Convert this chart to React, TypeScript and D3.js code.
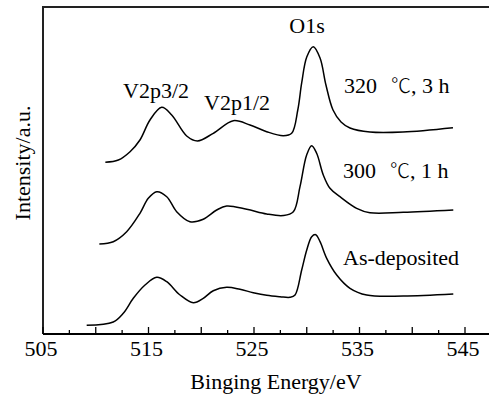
import React from "react";
import * as d3 from "d3";

const W = 489;
const H = 406;

// Binding energy (eV) and intensity (a.u.)
const asDepE = [509.14, 511.66, 512.61, 513.56, 514.67, 515.78, 516.73, 517.99, 519.25, 520.19, 521.14, 522.41, 523.67, 524.93, 526.2, 527.46, 528.41, 528.89, 529.52, 530.0, 530.47, 530.85, 531.26, 531.89, 532.84, 534.1, 535.68, 539.15, 543.89];
const asDepI = [2.66, 3.67, 6.33, 10.92, 14.98, 17.34, 15.99, 11.93, 9.57, 10.92, 13.24, 14.28, 13.67, 12.63, 11.83, 11.41, 11.22, 11.93, 19.57, 25.69, 29.76, 30.37, 28.23, 23.15, 18.04, 13.98, 11.93, 11.62, 12.23];

const s300E = [510.34, 511.66, 512.93, 514.19, 514.98, 515.78, 516.73, 517.67, 518.93, 520.19, 521.46, 522.41, 524.31, 526.2, 527.78, 528.73, 529.36, 529.99, 530.47, 530.94, 531.57, 532.2, 533.15, 534.73, 535.99, 539.15, 543.89];
const s300I = [27.52, 28.23, 31.28, 36.91, 41.5, 43.52, 41.99, 37.4, 34.34, 35.08, 37.92, 39.14, 38.13, 36.7, 36.24, 37.4, 45.05, 54.74, 57.58, 55.26, 48.62, 44.56, 41.99, 38.44, 37.09, 37.22, 37.92];

const s320E = [510.91, 512.14, 513.25, 514.19, 515.14, 516.25, 517.2, 518.62, 519.64, 521.14, 523.04, 524.62, 526.2, 527.78, 528.57, 529.15, 529.52, 530.0, 530.62, 531.26, 531.82, 532.49, 533.25, 534.1, 535.99, 539.12, 543.86];
const s320I = [52.51, 53.21, 55.75, 59.33, 65.44, 69.33, 66.97, 60.55, 59.02, 61.38, 65.23, 63.91, 61.87, 60.64, 61.38, 68.5, 76.76, 84.71, 87.86, 84.4, 76.15, 68.5, 64.83, 63.0, 61.77, 61.77, 63.09];

const xTickLabels = [505, 515, 525, 535, 545];
const majorTicks = [505, 510, 515, 520, 525, 530, 535, 540, 545];
const minorTicks = [507.5, 512.5, 517.5, 522.5, 527.5, 532.5, 537.5, 542.5, 547.5];

const FONT = "'Liberation Serif', 'Times New Roman', serif";
const CJK = "'Noto Sans CJK SC', sans-serif";

export default function App() {
  const left = 43;
  const top = 7;
  const bottom = 334;
  const x = d3.scaleLinear().domain([505, 545]).range([left, 465]);
  const y = d3.scaleLinear().domain([0, 100]).range([bottom, top]);
  const right = W + 10;

  const line = d3
    .line<[number, number]>()
    .x((d) => x(d[0]))
    .y((d) => y(d[1]))
    .curve(d3.curveCatmullRom.alpha(0.5));

  const series = [
    { e: asDepE, i: asDepI },
    { e: s300E, i: s300I },
    { e: s320E, i: s320I },
  ];

  const tempLabel = (lx: number, ly: number, t: string, h: string) => (
    <text x={lx} y={ly} fontSize={22} fill="#000">
      {t}
      <tspan dx={14} fontFamily={CJK} fontSize={20} fontWeight={300}>℃</tspan>
      <tspan>, {h}</tspan>
    </text>
  );

  return (
    <svg
      width={W}
      height={H}
      style={{ position: "absolute", left: 0, top: 0, background: "#fff" }}
      fontFamily={FONT}
    >
      <path
        d={`M${left},${bottom}V${top}H${right}`}
        fill="none"
        stroke="#222"
        strokeWidth={2}
      />
      <line x1={left} x2={right} y1={bottom} y2={bottom} stroke="#000" strokeWidth={2} />
      {majorTicks.map((t) => (
        <line key={"M" + t} x1={x(t)} x2={x(t)} y1={bottom} y2={bottom - 7} stroke="#000" strokeWidth={1.3} />
      ))}
      {minorTicks.map((t) => (
        <line key={"m" + t} x1={x(t)} x2={x(t)} y1={bottom} y2={bottom - 4} stroke="#000" strokeWidth={1.3} />
      ))}
      {xTickLabels.map((t) => (
        <text key={"l" + t} x={x(t) - 2} y={356} fontSize={22} textAnchor="middle" fill="#000">
          {t}
        </text>
      ))}
      <text x={276} y={389} fontSize={22} textAnchor="middle" fill="#000">
        Binging Energy/eV
      </text>
      <text
        transform={`translate(30,${163}) rotate(-90)`}
        fontSize={22}
        textAnchor="middle"
        fill="#000"
      >
        Intensity/a.u.
      </text>

      {series.map((s, k) => (
        <path
          key={k}
          d={line(s.e.map((e, j) => [e, s.i[j]] as [number, number])) || ""}
          fill="none"
          stroke="#000"
          strokeWidth={1.5}
        />
      ))}

      <text x={156} y={98} fontSize={22} textAnchor="middle" fill="#000">V2p3/2</text>
      <text x={237} y={110} fontSize={22} textAnchor="middle" fill="#000">V2p1/2</text>
      <text x={307} y={33} fontSize={22} textAnchor="middle" fill="#000">O1s</text>
      {tempLabel(344, 93, "320", "3 h")}
      {tempLabel(343, 178, "300", "1 h")}
      <text x={343} y={265} fontSize={22} fill="#000">As-deposited</text>
    </svg>
  );
}
